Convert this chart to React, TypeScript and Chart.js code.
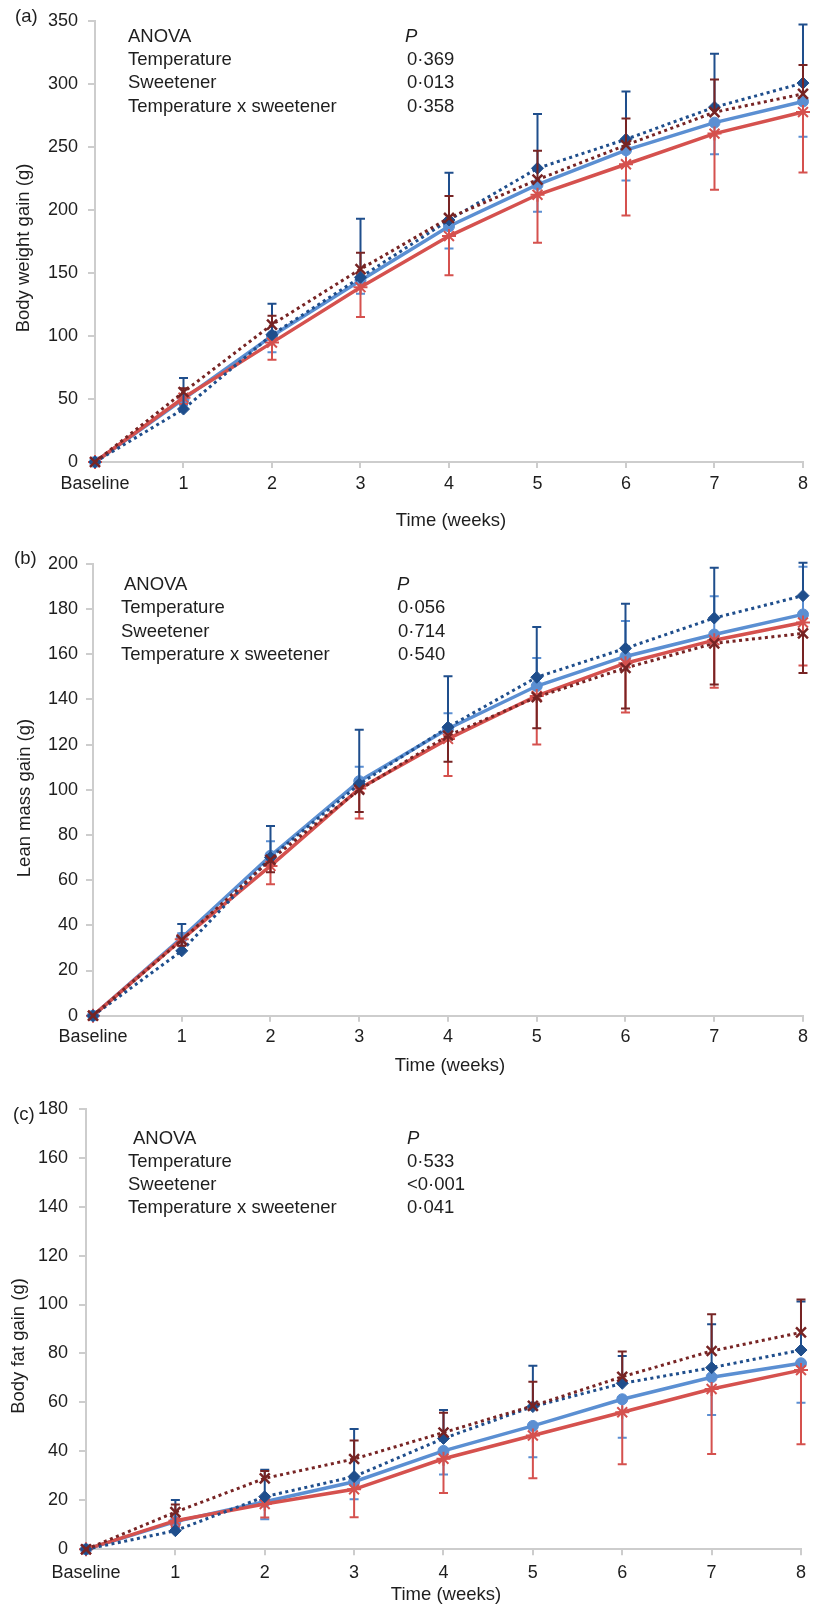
import React, { useEffect, useRef } from 'react';
import { Chart, registerables } from 'chart.js';

Chart.register(...registerables);

// ---------- data ----------
const weeks = ['Baseline', '1', '2', '3', '4', '5', '6', '7', '8'];

// Panel (a) Body weight gain (g)
const weightDarkBlue = [0, 42, 101, 146.5, 192, 233, 256, 281.5, 300.6];
const weightDarkBlueErr = [0, 24.7, 24.6, 46.5, 37.5, 43, 38, 42.3, 46.4];
const weightLightBlue = [0, 50, 100, 144, 187, 220, 247.4, 269.2, 286];
const weightLightBlueErr = [0, 5, 13, 10.6, 17.7, 21.5, 24, 25, 28];
const weightDarkRed = [0, 55.5, 109, 153, 193.6, 224, 251.4, 277.5, 292];
const weightDarkRedErr = [0, 3, 7, 13, 17.4, 23, 21, 26, 23];
const weightRed = [0, 51, 94.7, 138.7, 179.2, 212, 236.2, 260.5, 277.6];
const weightRedErr = [0, 5, 13.5, 23.7, 31, 38, 40.6, 44.5, 48];

// Panel (b) Lean mass gain (g)
const leanDarkBlue = [0, 28.7, 70, 102.5, 127.7, 149.8, 162.6, 176, 185.9];
const leanDarkBlueErr = [0, 11.9, 14, 24, 22.5, 22.2, 19.7, 22.3, 14.6];
const leanLightBlue = [0, 34.5, 70.8, 103.8, 127, 145.9, 159, 168.7, 177.6];
const leanLightBlueErr = [0, 2, 6.4, 6.4, 6.9, 12.4, 15.7, 16.9, 21.1];
const leanDarkRed = [0, 33.5, 69, 100, 124, 141, 153.9, 164.8, 169.2];
const leanDarkRedErr = [0, 2.5, 5.5, 9.9, 11.6, 13.8, 17.9, 18.2, 17.5];
const leanRed = [0, 33.8, 66.3, 100.5, 122.5, 141.5, 156, 166.2, 174];
const leanRedErr = [0, 2.8, 8.1, 13.2, 16.4, 21.5, 21.8, 21.1, 19];

// Panel (c) Body fat gain (g)
const fatDarkBlue = [0, 7.6, 21.5, 29.7, 45.3, 58.3, 67.8, 74.2, 81.4];
const fatDarkBlueErr = [0, 12.5, 11, 19.4, 11.6, 16.7, 11.2, 17.7, 19.8];
const fatLightBlue = [0, 11.3, 19.4, 27.6, 40.2, 50.4, 61.3, 70.3, 76];
const fatLightBlueErr = [0, 2.5, 7.1, 7.2, 9.6, 12.8, 15.7, 15.4, 16.1];
const fatDarkRed = [0, 15.2, 29, 36.9, 47.7, 58.6, 70.5, 81, 88.6];
const fatDarkRedErr = [0, 3.1, 3, 7.5, 8.1, 9.8, 10.3, 15, 13.5];
const fatRed = [0, 11.7, 18.5, 24.5, 37, 46.5, 56, 65.5, 73.2];
const fatRedErr = [0, 2.5, 5.5, 11.4, 14, 17.5, 21.3, 26.6, 30.3];

const anovaLabels = ['ANOVA', 'Temperature', 'Sweetener', 'Temperature x sweetener'];
const weightP = ['0·369', '0·013', '0·358'];
const leanP = ['0·056', '0·714', '0·540'];
const fatP = ['0·533', '<0·001', '0·041'];

// ---------- styles ----------
const FONT = '"Liberation Sans", Arial, Helvetica, sans-serif';
const TEXT = '#1e1e1e';
const AXIS = '#CDCDCD';
const C_DB = '#1F4E8C';
const C_LB = '#5B8FD2';
const C_DR = '#772424';
const C_R = '#D5514E';

const errorBarPlugin = {
  id: 'errorBars',
  afterDatasetDraw(chart: any, args: any) {
    const ds = chart.data.datasets[args.index];
    if (!ds.errors) return;
    const ys = chart.scales.y;
    const ctx = chart.ctx;
    ctx.save();
    ctx.strokeStyle = ds.errColor;
    ctx.lineWidth = 2;
    args.meta.data.forEach((pt: any, i: number) => {
      const e = ds.errors[i];
      if (!e) return;
      const v = ds.data[i];
      const y0 = ys.getPixelForValue(v);
      const y1 = ys.getPixelForValue(v + ds.errDir * e);
      const x = pt.x;
      ctx.beginPath();
      ctx.moveTo(x, y0);
      ctx.lineTo(x, y1);
      ctx.moveTo(x - 4.5, y1);
      ctx.lineTo(x + 4.5, y1);
      ctx.stroke();
    });
    ctx.restore();
  },
};

function makeTextPlugin(p: any) {
  return {
    id: 'panelText' + p.key,
    afterDraw(chart: any) {
      const ctx = chart.ctx;
      const off = p.top;
      ctx.save();
      ctx.fillStyle = TEXT;
      ctx.font = `18.5px ${FONT}`;
      ctx.textBaseline = 'middle';
      ctx.textAlign = 'left';
      ctx.fillText(p.label, p.labelX, p.labelY - off);
      // y title
      ctx.save();
      ctx.translate(p.yTitleX, p.yTitleY - off);
      ctx.rotate(-Math.PI / 2);
      ctx.textAlign = 'center';
      ctx.fillText(p.yTitle, 0, 0);
      ctx.restore();
      // x title
      ctx.textAlign = 'center';
      ctx.fillText('Time (weeks)', p.xTitleX, p.xTitleY - off);
      // ANOVA block
      ctx.textAlign = 'left';
      ctx.textBaseline = 'alphabetic';
      anovaLabels.forEach((t, i) => {
        const x = i === 0 ? p.anovaX0 : p.anovaX;
        ctx.fillText(t, x, p.rows[i] - off);
      });
      ctx.font = `italic 18.5px ${FONT}`;
      ctx.fillText('P', p.pX, p.rows[0] - off);
      ctx.font = `18.5px ${FONT}`;
      p.pValues.forEach((t: string, i: number) => {
        ctx.fillText(t, p.valX, p.rows[i + 1] - off);
      });
      ctx.restore();
    },
  };
}

function series(label: string, data: number[], errors: number[], color: string, dotted: boolean, style: string, errDir: number, order: number) {
  const base: any = {
    label,
    data,
    errors,
    errDir,
    errColor: color,
    order,
    borderColor: color,
    backgroundColor: color,
    pointBackgroundColor: color,
    pointBorderColor: color,
    pointStyle: style,
    tension: 0,
    clip: 12,
    borderWidth: dotted ? 3 : 3.5,
    borderDash: dotted ? [3, 3.5] : [],
  };
  if (style === 'rectRot') { base.pointRadius = 6; base.pointBorderWidth = 1; }
  else if (style === 'circle') { base.pointRadius = 5.5; base.pointBorderWidth = 1; }
  else if (style === 'crossRot') { base.pointRadius = 7; base.pointBorderWidth = 2.5; }
  else { base.pointRadius = 7; base.pointBorderWidth = 2; }
  return base;
}

const panels: any[] = [
  {
    key: 'a', top: 0, height: 545, left: 95, right: 807, areaTop: 16, areaBottom: 462,
    yMax: 350, yStep: 50, yPad: 10, xPad: 5,
    label: '(a)', labelX: 15, labelY: 17,
    yTitle: 'Body weight gain (g)', yTitleX: 24, yTitleY: 248,
    xTitleX: 451, xTitleY: 521,
    anovaX0: 128, anovaX: 128, rows: [42, 65, 88, 111.5], pX: 405, valX: 407, pValues: weightP,
    datasets: [
      series('Dark blue', weightDarkBlue, weightDarkBlueErr, C_DB, true, 'rectRot', 1, 1),
      series('Light blue', weightLightBlue, weightLightBlueErr, C_LB, false, 'circle', -1, 3),
      series('Dark red', weightDarkRed, weightDarkRedErr, C_DR, true, 'crossRot', 1, 0),
      series('Red', weightRed, weightRedErr, C_R, false, 'star', -1, 2),
    ],
  },
  {
    key: 'b', top: 545, height: 540, left: 93, right: 807, areaTop: 557.7, areaBottom: 1015.7,
    yMax: 200, yStep: 20, yPad: 8, xPad: 5,
    label: '(b)', labelX: 14, labelY: 559,
    yTitle: 'Lean mass gain (g)', yTitleX: 25, yTitleY: 798,
    xTitleX: 450, xTitleY: 1066,
    anovaX0: 124, anovaX: 121, rows: [590, 613, 637, 660], pX: 397, valX: 398, pValues: leanP,
    datasets: [
      series('Dark blue', leanDarkBlue, leanDarkBlueErr, C_DB, true, 'rectRot', 1, 1),
      series('Light blue', leanLightBlue, leanLightBlueErr, C_LB, false, 'circle', 1, 3),
      series('Dark red', leanDarkRed, leanDarkRedErr, C_DR, true, 'crossRot', -1, 0),
      series('Red', leanRed, leanRedErr, C_R, false, 'star', -1, 2),
    ],
  },
  {
    key: 'c', top: 1085, height: 526, left: 86, right: 806, areaTop: 1108.7, areaBottom: 1549.3,
    yMax: 180, yStep: 20, yPad: 11, xPad: 7,
    label: '(c)', labelX: 13, labelY: 1115,
    yTitle: 'Body fat gain (g)', yTitleX: 19, yTitleY: 1346,
    xTitleX: 446, xTitleY: 1595,
    anovaX0: 133, anovaX: 128, rows: [1144, 1167, 1190, 1213], pX: 407, valX: 407, pValues: fatP,
    datasets: [
      series('Dark blue', fatDarkBlue, fatDarkBlueErr, C_DB, true, 'rectRot', 1, 1),
      series('Light blue', fatLightBlue, fatLightBlueErr, C_LB, false, 'circle', -1, 3),
      series('Dark red', fatDarkRed, fatDarkRedErr, C_DR, true, 'crossRot', 1, 0),
      series('Red', fatRed, fatRedErr, C_R, false, 'star', -1, 2),
    ],
  },
];

function Panel({ p }: { p: any }) {
  const ref = useRef<HTMLCanvasElement>(null);
  useEffect(() => {
    const X_H = 40;
    const localTop = p.areaTop - p.top;
    const localBottom = p.areaBottom - p.top;
    const chart = new Chart(ref.current as HTMLCanvasElement, {
      type: 'line',
      data: { labels: weeks, datasets: p.datasets },
      options: {
        responsive: false,
        animation: false,
        events: [],
        layout: {
          padding: { left: 0, right: 813 - p.right, top: localTop, bottom: p.height - localBottom - X_H },
        },
        plugins: { legend: { display: false }, tooltip: { enabled: false }, title: { display: false } },
        scales: {
          x: {
            type: 'category',
            offset: false,
            afterFit: (s: any) => { s.height = X_H; },
            border: { display: true, color: AXIS, width: 2 },
            grid: { display: true, drawOnChartArea: false, drawTicks: true, tickLength: 6, color: AXIS, lineWidth: 2 },
            ticks: { autoSkip: false, maxRotation: 0, minRotation: 0, padding: p.xPad, color: TEXT, font: { family: FONT, size: 18 } },
          },
          y: {
            min: 0,
            max: p.yMax,
            afterFit: (s: any) => { s.width = p.left; },
            border: { display: true, color: AXIS, width: 2 },
            grid: { display: true, drawOnChartArea: false, drawTicks: true, tickLength: 7, color: AXIS, lineWidth: 2 },
            ticks: { stepSize: p.yStep, padding: p.yPad, color: TEXT, font: { family: FONT, size: 18 } },
          },
        },
      } as any,
      plugins: [errorBarPlugin as any, makeTextPlugin(p) as any],
    });
    return () => chart.destroy();
  }, []);
  return (
    <div style={{ position: 'absolute', left: 0, top: p.top, width: 813, height: p.height }}>
      <canvas ref={ref} width={813} height={p.height} style={{ display: 'block' }} />
    </div>
  );
}

export default function App() {
  return (
    <div style={{ position: 'absolute', left: 0, top: 0, width: 813, height: 1611, background: '#ffffff', overflow: 'hidden' }}>
      {panels.map((p) => (
        <Panel key={p.key} p={p} />
      ))}
    </div>
  );
}
